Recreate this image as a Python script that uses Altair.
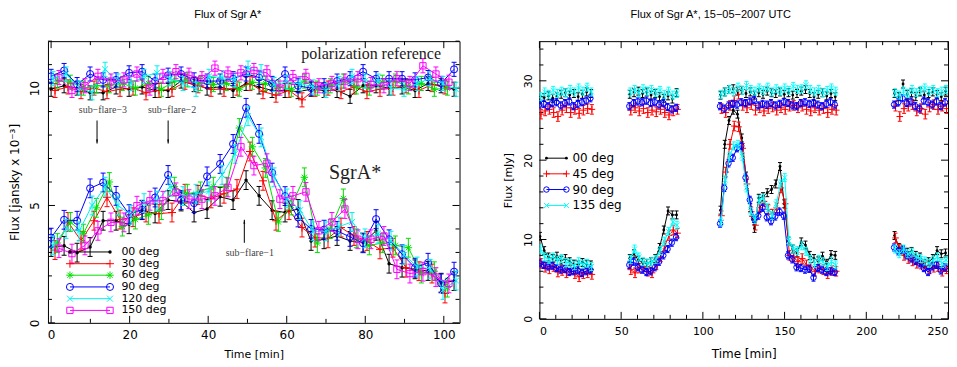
import altair as alt
import pandas as pd

# ======================= LEFT PANEL DATA =======================
L_SERIES = ["00 deg", "30 deg", "60 deg", "90 deg", "120 deg", "150 deg"]
L_COLORS = ["#000000", "#ff0000", "#00e000", "#0000ff", "#00f0f0", "#ff00ff"]
L_STEP = 3.31
L_OFFSET = [0.0, 1.0, 1.6, 0.0, 0.5, 2.0]

# Sgr A* light curves [jansky x 1e-3]
L_SGR_00 = [3.23, 3.28, 2.99, 3.23, 4.35, 4.35, 4.2, 4.8, 4.66, 5.23, 5.17, 4.7, 4.85, 5.37, 5.23, 6.08,
            5.41, 4.8, 4.7, 4.85, 3.49, 3.56, 3.7, 3.49, 3.42, 3.92, 2.52, 2.35, 2.28, 2.21, 1.71, 1.78]
L_SGR_30 = [3.1, 4.3, 3.5, 4.35, 5.35, 4.4, 4.5, 4.7, 4.65, 4.7, 5.5, 5.45, 5.3, 5.5, 5.7, 7.3,
            6.05, 4.35, 4.8, 4.06, 3.63, 3.6, 4.06, 3.7, 3.49, 3.13, 3.2, 2.35, 2.2, 2.1, 1.25]
L_SGR_60 = [3.4, 4.3, 3.8, 4.9, 6.0, 4.1, 4.4, 4.6, 4.8, 5.8, 5.5, 5.6, 5.8, 5.8, 8.3, 7.5,
            6.6, 4.3, 5.0, 6.2, 3.4, 4.0, 5.3, 3.6, 3.3, 3.4, 3.3, 3.2, 2.1, 2.2, 1.5]
L_SGR_90 = [3.63, 4.39, 4.35, 5.73, 5.98, 5.41, 4.63, 4.82, 5.34, 6.3, 5.23, 5.1, 6.24, 6.77, 7.62, 9.16,
            8.05, 6.4, 5.4, 4.49, 4.0, 3.97, 3.92, 3.66, 3.39, 4.42, 3.56, 2.92, 2.35, 2.56, 1.68, 2.18]
L_SGR_120 = [3.3, 4.0, 3.9, 5.0, 5.8, 5.0, 4.6, 5.1, 5.2, 5.8, 5.4, 5.5, 5.6, 6.3, 7.2, 8.8,
             7.9, 6.2, 5.3, 4.8, 3.9, 3.9, 4.1, 4.3, 3.6, 3.8, 3.5, 2.9, 2.4, 2.3, 1.4, 1.8]
L_SGR_150 = [3.18, 2.95, 3.3, 3.92, 4.28, 4.28, 4.99, 5.2, 5.2, 5.56, 5.27, 5.27, 5.41, 5.77, 7.5, 6.7,
             6.8, 5.27, 5.41, 5.58, 3.92, 4.3, 4.85, 3.56, 3.56, 3.7, 2.28, 2.1, 2.18, 1.95, 1.68]

# polarization reference
L_REF_00 = [9.95, 10.1, 10.0, 9.8, 9.8, 10.05, 9.95, 10.05, 9.9, 9.9, 10.3, 10.15, 10.0, 10.05, 9.9, 10.2,
            10.05, 9.9, 9.9, 9.85, 9.95, 9.9, 9.9, 9.65, 10.1, 10.1, 10.0, 10.05, 9.9, 10.2, 10.1, 9.95]
L_REF_30 = [9.9, 10.05, 9.85, 10.0, 9.85, 9.95, 10.0, 9.8, 9.9, 9.95, 10.25, 10.1, 9.95, 9.95, 10.0, 10.2,
            9.85, 9.7, 9.9, 9.5, 9.95, 10.0, 9.85, 10.05, 9.85, 9.95, 10.0, 10.1, 9.9, 10.15, 10.05]
L_REF_60 = [10.3, 10.25, 10.0, 10.1, 10.1, 10.2, 10.0, 10.2, 9.95, 10.3, 10.35, 10.2, 10.15, 10.2, 9.95, 10.25,
            10.2, 10.05, 9.95, 10.3, 10.0, 10.1, 10.3, 10.05, 10.0, 10.25, 10.3, 10.05, 10.2, 9.95, 10.0]
L_REF_90 = [10.5, 10.75, 10.15, 10.6, 10.35, 10.35, 10.65, 10.7, 10.3, 10.55, 10.6, 10.35, 10.3, 10.3, 10.4, 10.6,
            10.45, 10.2, 10.6, 10.1, 10.0, 10.1, 10.3, 10.4, 10.7, 10.4, 10.4, 10.4, 10.35, 10.45, 10.2, 10.8]
L_REF_120 = [10.4, 10.6, 10.0, 9.8, 10.8, 10.3, 10.2, 10.5, 10.65, 10.4, 10.2, 9.95, 10.5, 10.45, 10.35, 10.85,
             10.7, 10.15, 10.25, 10.2, 10.05, 9.9, 10.2, 10.5, 10.3, 10.3, 10.0, 9.95, 10.2, 10.4, 10.2, 9.95]
L_REF_150 = [10.45, 9.9, 10.1, 10.5, 10.3, 10.35, 10.6, 10.0, 10.5, 10.7, 10.55, 10.4, 10.85, 10.6, 10.65, 10.75,
             10.65, 10.0, 10.45, 10.5, 10.1, 10.2, 10.3, 10.4, 10.15, 10.1, 10.4, 10.2, 10.95, 10.6, 10.25]

L_SGR = [L_SGR_00, L_SGR_30, L_SGR_60, L_SGR_90, L_SGR_120, L_SGR_150]
L_REF = [L_REF_00, L_REF_30, L_REF_60, L_REF_90, L_REF_120, L_REF_150]
L_ERR_SGR = 0.4
L_ERR_REF = 0.3

# ======================= RIGHT PANEL DATA =======================
R_SERIES = ["00 deg", "45 deg", "90 deg", "135 deg"]
R_COLORS = ["#000000", "#ff0000", "#0000ff", "#00ffff"]
R_STEP = 2.6
R_SEG_START = [0.0, 55.0, 110.5, 217.0]
R_OFFSET = [0.3, 0.9, 0.0, 0.6]

R_LO_00 = [[10.4, 8.6, 7.8, 7.6, 7.9, 7.4, 7.6, 7.2, 6.9, 6.8, 7.1, 6.9, 6.8],
           [7.6, 8.2, 7.4, 7.1, 7.0, 7.2, 7.6, 9.0, 11.2, 13.6, 13.1, 13.1],
           [13.7, 22.0, 25.0, 26.3, 25.8, 22.8, 18.0, 14.0, 11.4, 15.2, 15.4, 15.9, 16.3, 17.0, 19.2, 14.5,
            9.8, 8.8, 8.3, 9.7, 9.3, 8.0, 7.6, 7.3, 7.9, 7.0, 8.1, 8.0],
           [10.5, 9.0, 8.7, 8.4, 8.5, 8.0, 7.8, 7.0, 7.2, 7.6, 8.6, 8.2, 8.3]]
R_LO_45 = [[7.0, 6.5, 6.3, 6.6, 5.9, 6.1, 5.8, 6.2, 5.7, 5.3, 5.7, 5.8, 5.6],
           [6.2, 5.8, 6.4, 6.6, 6.0, 5.8, 6.8, 7.8, 9.2, 10.5, 11.2, 10.8],
           [13.0, 18.5, 22.0, 24.3, 24.2, 21.5, 17.0, 13.5, 11.8, 14.0, 14.8, 13.8, 13.2, 14.0, 16.5, 14.5,
            8.0, 7.8, 7.2, 7.6, 6.8, 6.5, 6.0, 6.4, 6.2, 5.7, 6.1, 6.0],
           [10.2, 8.8, 8.0, 7.6, 7.3, 7.0, 6.9, 6.7, 6.3, 6.5, 6.6, 6.0, 6.3]]
R_LO_90 = [[7.0, 6.8, 6.6, 6.7, 6.4, 6.2, 6.3, 5.9, 6.0, 6.1, 5.8, 6.0, 6.2],
           [6.8, 7.2, 6.5, 6.2, 5.9, 6.0, 6.5, 7.2, 8.0, 8.8, 9.6, 10.3],
           [12.0, 16.5, 19.6, 20.3, 21.5, 21.8, 17.8, 15.0, 12.6, 13.0, 14.0, 12.8, 12.3, 12.9, 13.5, 13.0,
            8.0, 7.5, 6.5, 6.4, 6.2, 6.3, 5.2, 6.4, 6.2, 5.9, 6.0, 5.9],
           [9.0, 8.5, 8.7, 8.0, 7.6, 7.3, 7.0, 6.4, 5.9, 6.6, 6.8, 6.1, 6.5]]
R_LO_135 = [[8.8, 7.8, 7.5, 7.8, 7.4, 7.6, 7.1, 7.0, 6.7, 7.2, 6.9, 7.0, 6.6],
            [7.5, 8.8, 7.8, 7.2, 7.0, 7.2, 7.5, 8.6, 9.8, 11.0, 12.2, 11.8],
            [12.2, 17.5, 20.5, 21.8, 22.0, 20.5, 16.5, 13.5, 12.5, 15.0, 15.2, 14.0, 13.0, 14.5, 17.0, 17.8,
             9.8, 8.8, 8.6, 9.2, 8.5, 7.5, 7.0, 7.5, 7.2, 6.6, 7.2, 6.8],
            [8.8, 8.2, 8.8, 8.2, 8.4, 7.8, 7.6, 7.3, 7.0, 7.4, 7.8, 7.0, 7.4]]

R_HI_00 = [[27.6, 27.9, 28.1, 27.8, 28.0, 28.3, 28.5, 28.2, 28.4, 28.0, 28.3, 28.6, 28.4],
           [28.3, 28.5, 28.7, 28.4, 28.6, 28.2, 28.4, 28.0, 27.8, 28.1, 27.7, 28.5],
           [28.2, 28.6, 28.9, 29.0, 28.7, 28.8, 28.4, 28.6, 28.2, 28.5, 28.3, 28.7, 28.5, 28.4, 28.6, 28.3,
            28.5, 28.2, 28.4, 28.7, 28.9, 28.4, 28.0, 28.3, 28.5, 28.1, 28.4, 28.0],
           [28.4, 28.0, 29.6, 28.3, 28.5, 28.0, 28.6, 28.2, 28.4, 28.6, 28.3, 28.0, 28.7]]
R_HI_45 = [[25.8, 26.2, 26.4, 26.0, 25.5, 26.3, 26.6, 26.0, 26.4, 25.9, 26.3, 26.5, 26.4],
           [26.3, 26.6, 26.2, 26.5, 26.0, 26.3, 26.1, 26.4, 26.0, 25.7, 26.2, 26.4],
           [26.5, 26.0, 26.9, 27.5, 28.3, 26.9, 26.6, 27.0, 26.3, 26.6, 26.2, 26.5, 26.7, 26.3, 26.6, 26.4,
            26.8, 26.9, 26.6, 26.8, 26.4, 26.2, 26.6, 26.3, 26.5, 26.0, 26.4, 26.3],
           [26.8, 25.5, 26.5, 26.8, 27.0, 26.2, 26.5, 25.8, 26.7, 27.0, 26.4, 26.8, 26.5]]
R_HI_90 = [[27.0, 27.1, 26.8, 27.2, 27.3, 26.9, 27.2, 27.4, 26.8, 27.1, 27.3, 27.5, 27.8],
           [26.8, 27.2, 27.4, 27.3, 27.5, 27.2, 27.3, 27.0, 27.2, 26.7, 26.4, 26.6],
           [26.8, 26.5, 26.9, 27.1, 27.0, 27.3, 27.2, 27.4, 27.6, 26.9, 27.1, 27.0, 27.2, 26.9, 27.1, 27.3,
            27.2, 26.9, 26.8, 27.2, 27.3, 27.1, 27.2, 27.0, 26.8, 27.1, 27.3, 27.0],
           [27.0, 27.3, 27.8, 27.2, 27.4, 26.8, 26.5, 27.5, 27.3, 27.0, 27.4, 26.8, 27.3]]
R_HI_135 = [[28.0, 28.6, 28.3, 28.8, 28.4, 28.7, 28.5, 28.9, 28.6, 29.1, 28.7, 29.2, 28.6],
            [28.6, 28.9, 28.5, 29.0, 28.7, 28.9, 28.5, 28.8, 28.3, 28.7, 28.2, 28.4],
            [28.3, 28.6, 28.9, 28.6, 29.2, 28.8, 29.4, 28.9, 28.7, 29.1, 28.8, 29.2, 28.6, 29.0, 28.7, 29.1,
             28.8, 29.3, 28.9, 29.0, 29.5, 28.9, 28.6, 28.9, 28.5, 28.8, 29.1, 28.7],
            [28.5, 28.2, 28.7, 28.4, 28.9, 28.5, 28.8, 29.1, 28.7, 28.9, 28.5, 28.7, 28.9]]
R_LO = [R_LO_00, R_LO_45, R_LO_90, R_LO_135]
R_HI = [R_HI_00, R_HI_45, R_HI_90, R_HI_135]
R_ERR = [0.5, 0.6, 0.45, 0.5]

# ======================= STYLE =======================
PLUS = "M-1,0L1,0M0,-1L0,1"
STAR = "M-1,0L1,0M0,-1L0,1M-0.7,-0.7L0.7,0.7M-0.7,0.7L0.7,-0.7"
XMARK = "M-0.8,-0.8L0.8,0.8M-0.8,0.8L0.8,-0.8"
CAP = "M-1,0L1,0"
ARROW_DOWN = "M0,0L-0.45,-2L0.45,-2Z"
ARROW_UP = "M0,0L-0.45,2L0.45,2Z"
SANS = "DejaVu Sans"
SERIF = "Liberation Serif"

# (shape, size, filled)
L_MARK = [("circle", 12, True), (PLUS, 64, False), (STAR, 56, False),
          ("circle", 50, False), (XMARK, 56, False), ("square", 40, False)]
R_MARK = [("circle", 8, True), (PLUS, 44, False), ("circle", 30, False), (XMARK, 40, False)]


def make_axes(xlabels, ylabels, xtitle, ytitle, lab_size, xt_size, yt_size,
              x_lpad, x_tpad, y_lpad, y_tpad):
    ax_x = alt.Axis(values=xlabels, title=xtitle, ticks=False, domain=False, grid=False,
                    labelFont=SANS, labelFontSize=lab_size, labelColor="black",
                    labelPadding=x_lpad, titleFont=SANS, titleFontSize=xt_size,
                    titleFontWeight="normal", titleColor="black", titlePadding=x_tpad)
    ax_y = alt.Axis(values=ylabels, title=ytitle, ticks=False, domain=False, grid=False,
                    labelFont=SANS, labelFontSize=lab_size, labelColor="black",
                    labelAngle=-90, labelAlign="center", labelBaseline="bottom",
                    labelPadding=y_lpad, titleFont=SANS, titleFontSize=yt_size,
                    titleFontWeight="normal", titleColor="black", titlePadding=y_tpad)
    return ax_x, ax_y


def series_df(segments, starts, step, offset, err):
    rows = []
    for si, (start, vals) in enumerate(zip(starts, segments)):
        for k, v in enumerate(vals):
            t = start + offset + step * k
            rows.append({"t": t, "v": v, "lo": v - err, "hi": v + err, "seg": si})
    return pd.DataFrame(rows)


def series_layers(df, XS, YS, AX, AY, color, mark, cap, line=True):
    shape, size, filled = mark
    X = alt.X("t:Q", scale=XS, axis=AX)
    base = alt.Chart(df)
    out = []
    if line:
        out.append(base.mark_line(color=color, strokeWidth=1, clip=True).encode(
            x=X, y=alt.Y("v:Q", scale=YS, axis=AY), detail="seg:N"))
    out.append(base.mark_rule(color=color, strokeWidth=1, clip=True).encode(
        x=X, y=alt.Y("lo:Q", scale=YS, axis=AY), y2="hi:Q"))
    for f in ("lo", "hi"):
        out.append(base.mark_point(shape=CAP, size=cap, color=color, strokeWidth=1,
                                   opacity=1, clip=True).encode(
            x=X, y=alt.Y(f + ":Q", scale=YS, axis=AY)))
    out.append(base.mark_point(shape=shape, size=size, filled=filled, color=color,
                               strokeWidth=1, opacity=1, clip=True).encode(
        x=X, y=alt.Y("v:Q", scale=YS, axis=AY)))
    return out


def frame_layers(XS, YS, AX, AY, W, H, xticks, xlabels, yticks, ylabels):
    xmaj = pd.DataFrame({"t": [v for v in xticks if v in xlabels]})
    xmin = pd.DataFrame({"t": [v for v in xticks if v not in xlabels]})
    ymaj = pd.DataFrame({"v": [v for v in yticks if v in ylabels]})
    ymin = pd.DataFrame({"v": [v for v in yticks if v not in ylabels]})
    out = []
    for d, ln in ((xmaj, 7), (xmin, 4)):
        X = alt.X("t:Q", scale=XS, axis=AX)
        out.append(alt.Chart(d).mark_rule(color="black", strokeWidth=1).encode(
            x=X, y=alt.value(H), y2=alt.value(H - ln)))
        out.append(alt.Chart(d).mark_rule(color="black", strokeWidth=1).encode(
            x=X, y=alt.value(0), y2=alt.value(ln)))
    for d, ln in ((ymaj, 7), (ymin, 4)):
        Y = alt.Y("v:Q", scale=YS, axis=AY)
        out.append(alt.Chart(d).mark_rule(color="black", strokeWidth=1).encode(
            y=Y, x=alt.value(0), x2=alt.value(ln)))
        out.append(alt.Chart(d).mark_rule(color="black", strokeWidth=1).encode(
            y=Y, x=alt.value(W), x2=alt.value(W - ln)))
    return out


def legend_layers(XS, YS, AX, AY, names, colors, marks, rows_y, x0, x1, xt, fsize):
    out = []
    X = alt.X("t:Q", scale=XS, axis=AX)
    Y = alt.Y("v:Q", scale=YS, axis=AY)
    for name, color, mark, yv in zip(names, colors, marks, rows_y):
        shape, size, filled = mark
        d = pd.DataFrame({"t": [x0, x1], "v": [yv, yv]})
        out.append(alt.Chart(d).mark_line(color=color, strokeWidth=1).encode(x=X, y=Y))
        out.append(alt.Chart(d).mark_point(shape=shape, size=size, filled=filled, color=color,
                                           strokeWidth=1, opacity=1).encode(x=X, y=Y))
        td = pd.DataFrame({"t": [xt], "v": [yv], "s": [name]})
        out.append(alt.Chart(td).mark_text(align="left", baseline="middle", font=SANS,
                                           fontSize=fsize, color="black").encode(
            x=X, y=Y, text="s:N"))
    return out


# ======================= LEFT PANEL =======================
LW, LH = 412, 282
LXS = alt.Scale(domain=[-0.8, 104], nice=False, zero=False)
LYS = alt.Scale(domain=[0, 12], nice=False, zero=False)
L_XLAB = [0, 20, 40, 60, 80, 100]
L_YLAB = [0, 5, 10]
LAX, LAY = make_axes(L_XLAB, L_YLAB, "Time [min]", "Flux [jansky x 10⁻³]", 12, 11, 12, 7, 8, 6, 7)
LX = alt.X("t:Q", scale=LXS, axis=LAX)
LY = alt.Y("v:Q", scale=LYS, axis=LAY)

left_layers = frame_layers(LXS, LYS, LAX, LAY, LW, LH, list(range(0, 101, 10)), L_XLAB,
                           list(range(0, 13)), L_YLAB)
for i in range(6):
    dsgr = series_df([L_SGR[i]], [0.0], L_STEP, L_OFFSET[i], L_ERR_SGR)
    dref = series_df([L_REF[i]], [0.0], L_STEP, L_OFFSET[i], L_ERR_REF)
    left_layers += series_layers(dref, LXS, LYS, LAX, LAY, L_COLORS[i], L_MARK[i], 25)
    left_layers += series_layers(dsgr, LXS, LYS, LAX, LAY, L_COLORS[i], L_MARK[i], 25)

left_layers += legend_layers(LXS, LYS, LAX, LAY, L_SERIES, L_COLORS, L_MARK,
                             [3.02, 2.52, 2.03, 1.53, 1.03, 0.53], 4.8, 15.0, 17.9, 11)

# annotations
ann_serif = pd.DataFrame({"t": [81.5], "v": [11.23], "s": ["polarization reference"]})
left_layers.append(alt.Chart(ann_serif).mark_text(font=SERIF, fontSize=16, color="#222222",
                                                  align="center", baseline="alphabetic").encode(
    x=LX, y=LY, text="s:N"))
ann_sgr = pd.DataFrame({"t": [77.4], "v": [6.13], "s": ["SgrA*"]})
left_layers.append(alt.Chart(ann_sgr).mark_text(font=SERIF, fontSize=20, color="#222222",
                                                align="center", baseline="alphabetic").encode(
    x=LX, y=LY, text="s:N"))
ann_sub = pd.DataFrame({"t": [13.2, 30.8, 50.6], "v": [8.94, 8.94, 2.83],
                        "s": ["sub−flare−3", "sub−flare−2", "sub−flare−1"]})
left_layers.append(alt.Chart(ann_sub).mark_text(font=SERIF, fontSize=10, color="#444444",
                                                align="center", baseline="alphabetic").encode(
    x=LX, y=LY, text="s:N"))
arr = pd.DataFrame({"t": [11.7, 29.8, 49.2], "top": [8.62, 8.62, 4.39], "bot": [7.64, 7.64, 3.41]})
left_layers.append(alt.Chart(arr).mark_rule(color="black", strokeWidth=1).encode(
    x=LX, y=alt.Y("top:Q", scale=LYS, axis=LAY), y2="bot:Q"))
left_layers.append(alt.Chart(arr[arr.t < 40]).mark_point(shape=ARROW_DOWN, size=16, filled=True,
                                                         color="black", opacity=1).encode(
    x=LX, y=alt.Y("bot:Q", scale=LYS, axis=LAY)))
left_layers.append(alt.Chart(arr[arr.t > 40]).mark_point(shape=ARROW_UP, size=16, filled=True,
                                                         color="black", opacity=1).encode(
    x=LX, y=alt.Y("top:Q", scale=LYS, axis=LAY)))

left = alt.layer(*left_layers).properties(
    width=LW, height=LH,
    title=alt.TitleParams("Flux of Sgr A*", font="Liberation Sans", fontSize=11,
                          fontWeight="normal", color="black", anchor="middle", frame="group",
                          dx=-26, offset=21))

# ======================= RIGHT PANEL =======================
RW, RH = 409, 278
RXS = alt.Scale(domain=[0, 250], nice=False, zero=False)
RYS = alt.Scale(domain=[0, 35], nice=False, zero=False)
R_XLAB = [0, 50, 100, 150, 200, 250]
R_YLAB = [0, 10, 20, 30]
RAX, RAY = make_axes(R_XLAB, R_YLAB, "Time [min]", "Flux [mJy]", 11, 12, 11, 7, 12, 6, 9)

right_layers = frame_layers(RXS, RYS, RAX, RAY, RW, RH, list(range(0, 251, 10)), R_XLAB,
                            list(range(0, 35, 2)), R_YLAB)
for i in range(4):
    dhi = series_df(R_HI[i], R_SEG_START, R_STEP, R_OFFSET[i], R_ERR[i])
    dlo = series_df(R_LO[i], R_SEG_START, R_STEP, R_OFFSET[i], R_ERR[i])
    right_layers += series_layers(dhi, RXS, RYS, RAX, RAY, R_COLORS[i], R_MARK[i], 16, line=False)
    right_layers += series_layers(dlo, RXS, RYS, RAX, RAY, R_COLORS[i], R_MARK[i], 16, line=True)

right_layers += legend_layers(RXS, RYS, RAX, RAY, R_SERIES, R_COLORS, R_MARK,
                              [20.25, 18.28, 16.3, 14.29], 4.3, 16.5, 20.2, 12)

right = alt.layer(*right_layers).properties(
    width=RW, height=RH,
    title=alt.TitleParams("Flux of Sgr A*, 15−05−2007 UTC", font="Liberation Sans", fontSize=11,
                          fontWeight="normal", color="black", anchor="middle", frame="group",
                          dx=-33, offset=21))

chart = alt.hconcat(left, right, spacing=41).properties(
    padding={"left": 0, "top": 0, "right": 0, "bottom": 0}
).configure_view(stroke="black", strokeWidth=1)

chart.save("out.html", embed_options={"renderer": "svg", "actions": False})
